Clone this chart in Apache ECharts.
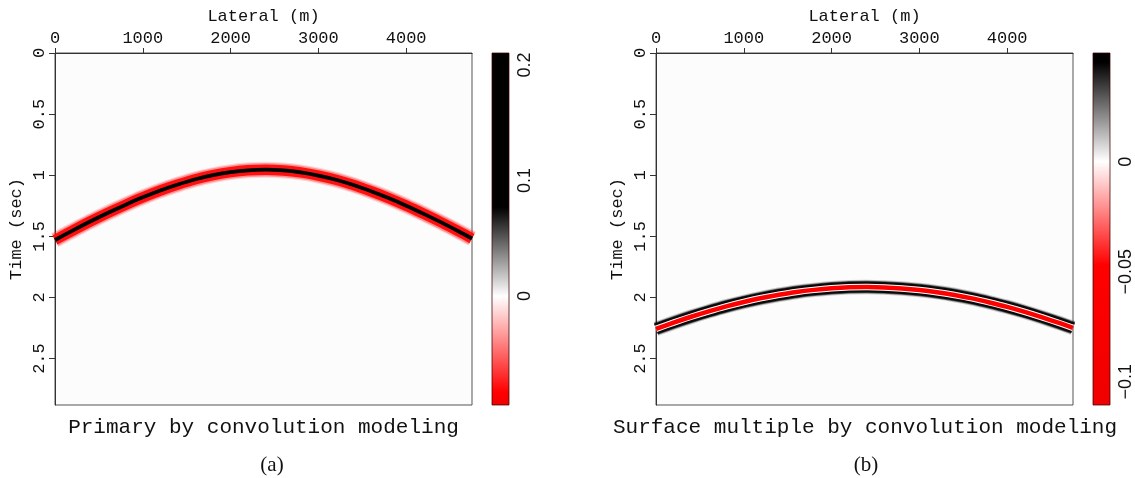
<!DOCTYPE html>
<html>
<head>
<meta charset="utf-8">
<script src="https://cdn.jsdelivr.net/npm/echarts@6/dist/echarts.min.js"></script>
<style>
  html, body { margin: 0; padding: 0; background: #ffffff; }
  #chart { width: 1135px; height: 478px; }
</style>
</head>
<body>
<div id="chart"></div>
<script>
// Lateral positions (m) where the event times are picked
const lateral = [0, 200, 400, 600, 800, 1000, 1200, 1400, 1600, 1800, 2000, 2200, 2400,
                 2600, 2800, 3000, 3200, 3400, 3600, 3800, 4000, 4200, 4400, 4600, 4750];
// Primary reflection: time of the wavelet peak (s)
const primaryTime = [1.530, 1.453, 1.379, 1.309, 1.243, 1.181, 1.125, 1.076, 1.033, 1.000, 0.975, 0.960, 0.955,
                     0.961, 0.977, 1.003, 1.037, 1.080, 1.131, 1.187, 1.249, 1.316, 1.386, 1.460, 1.518];
// Surface multiple: time of the wavelet trough (s)
const multipleTime = [2.257, 2.206, 2.158, 2.114, 2.073, 2.037, 2.005, 1.978, 1.955, 1.938, 1.925, 1.917, 1.915,
                      1.918, 1.926, 1.939, 1.957, 1.980, 2.008, 2.041, 2.077, 2.118, 2.163, 2.211, 2.249];

// Amplitude extremes spanned by each colour bar
const primaryAmpRange = [-0.0944, 0.2104];
const multipleAmpRange = [-0.1106, 0.0494];
// Amplitudes where the red-white-black map saturates
const primaryClip = [-0.083, 0.077];
const multipleClip = [-0.047, 0.045];

// Tick values
const lateralTicks = [0, 1000, 2000, 3000, 4000];
const timeTicks = [0, 0.5, 1, 1.5, 2, 2.5];
const primaryAmpTicks = [0, 0.1, 0.2];
const multipleAmpTicks = [-0.1, -0.05, 0];
const lateralMax = 4750;
const timeMax = 2.88;

const MONO = '"Liberation Mono", "DejaVu Sans Mono", monospace';
const SANS = '"Liberation Sans", Arial, sans-serif';
const SERIF = '"Liberation Serif", "DejaVu Serif", serif';
const INK = '#111';
const AXIS = '#333';

const chart = echarts.init(document.getElementById('chart'), null, { renderer: 'canvas' });

const panelGrid = (left) => ({
  left: left, top: 53, width: 417, height: 352,
  show: true, backgroundColor: '#fcfcfc', borderColor: '#555', borderWidth: 1
});
const barGrid = (left) => ({ left: left, top: 53, width: 17, height: 352, show: false });
const plain = (v) => String(v);

function lateralAxis(gridIndex) {
  return {
    gridIndex, type: 'value', position: 'top', min: 0, max: lateralMax,
    name: 'Lateral (m)', nameLocation: 'middle', nameGap: 28,
    nameTextStyle: { fontFamily: MONO, fontSize: 17, color: INK },
    axisLine: { show: true, onZero: false, lineStyle: { color: AXIS, width: 1 } },
    axisTick: { show: true, customValues: lateralTicks, length: 5, lineStyle: { color: AXIS } },
    axisLabel: { customValues: lateralTicks, fontFamily: MONO, fontSize: 17, color: INK, margin: 6, formatter: plain },
    splitLine: { show: false }
  };
}
function timeAxis(gridIndex) {
  return {
    gridIndex, type: 'value', inverse: true, min: 0, max: timeMax,
    name: 'Time (sec)', nameLocation: 'middle', nameGap: 30, nameRotate: 90,
    nameTextStyle: { fontFamily: MONO, fontSize: 17, color: INK },
    axisLine: { show: true, onZero: false, lineStyle: { color: AXIS, width: 1 } },
    axisTick: { show: true, customValues: timeTicks, length: 6, lineStyle: { color: AXIS } },
    axisLabel: { customValues: timeTicks, rotate: 90, fontFamily: MONO, fontSize: 17, color: INK, margin: 7, formatter: plain },
    splitLine: { show: false }
  };
}
const ampFormat = (v) => (v < 0 ? '\u2212' + String(Math.abs(v)) : String(v));
function ampAxis(gridIndex, range, ticks) {
  return {
    gridIndex, type: 'value', position: 'right', min: range[0], max: range[1],
    axisLine: { show: false },
    axisTick: { show: true, customValues: ticks, length: 4, lineStyle: { color: '#444' } },
    axisLabel: { customValues: ticks, rotate: 90, fontFamily: SANS, fontSize: 18, color: INK, margin: 7, formatter: ampFormat },
    splitLine: { show: false }
  };
}
const unitAxis = (gridIndex) => ({ gridIndex, type: 'value', min: 0, max: 1, show: false });

// Colour bar: red (negative) -> white (zero) -> black (positive)
function colorBar(index, range, clip) {
  const span = range[1] - range[0];
  const off = (v) => Math.min(1, Math.max(0, (v - range[0]) / span));
  const stops = [
    { offset: 0, color: '#f00000' },
    { offset: off(clip[0]), color: '#ff0000' },
    { offset: off(0), color: '#ffffff' },
    { offset: off(clip[1]), color: '#000000' },
    { offset: 1, color: '#000000' }
  ];
  return {
    type: 'custom', xAxisIndex: index, yAxisIndex: index, silent: true,
    data: [[0, range[0], range[1]]],
    renderItem(params, api) {
      const p0 = api.coord([0, api.value(1)]);
      const p1 = api.coord([1, api.value(2)]);
      return {
        type: 'rect',
        shape: { x: p0[0], y: p1[1], width: p1[0] - p0[0], height: p0[1] - p1[1] },
        style: {
          fill: new echarts.graphic.LinearGradient(0, 1, 0, 0, stops),
          stroke: 'rgba(60,0,0,0.75)', lineWidth: 1
        }
      };
    }
  };
}

// A seismic event drawn as stacked strokes following the picked times
function eventLayers(index, times, layers) {
  const data = lateral.map((x, i) => [x, times[i]]);
  return layers.map((l) => ({
    type: 'line', xAxisIndex: index, yAxisIndex: index, data,
    smooth: 0.3, showSymbol: false, symbol: 'none', silent: true,
    lineStyle: { color: l.color, width: l.width, cap: 'butt', join: 'round' }
  }));
}

const primaryLayers = [
  { color: 'rgba(255,0,0,0.14)', width: 16 },
  { color: 'rgba(255,40,40,0.40)', width: 13.5 },
  { color: '#ff1010', width: 10.5 },
  { color: '#000000', width: 3.8 }
];
const multipleLayers = [
  { color: 'rgba(0,0,0,0.20)', width: 14.5 },
  { color: 'rgba(0,0,0,0.55)', width: 12.5 },
  { color: '#0a0a0a', width: 11 },
  { color: '#ffffff', width: 6.5 },
  { color: '#ff0000', width: 4.5 }
];

const caption = (text, x, y, font) => ({
  type: 'text', x, y, silent: true,
  style: { text, font, fill: INK, textAlign: 'center', textVerticalAlign: 'middle' }
});

chart.setOption({
  animation: false,
  backgroundColor: '#ffffff',
  grid: [panelGrid(55), panelGrid(656), barGrid(492), barGrid(1093)],
  xAxis: [lateralAxis(0), lateralAxis(1), unitAxis(2), unitAxis(3)],
  yAxis: [timeAxis(0), timeAxis(1), ampAxis(2, primaryAmpRange, primaryAmpTicks), ampAxis(3, multipleAmpRange, multipleAmpTicks)],
  series: [
    ...eventLayers(0, primaryTime, primaryLayers),
    ...eventLayers(1, multipleTime, multipleLayers),
    colorBar(2, primaryAmpRange, primaryClip),
    colorBar(3, multipleAmpRange, multipleClip)
  ],
  graphic: [
    caption('Primary by convolution modeling', 263.5, 427, '21px ' + MONO),
    caption('Surface multiple by convolution modeling', 865, 427, '21px ' + MONO),
    caption('(a)', 272, 465, '21px ' + SERIF),
    caption('(b)', 866, 465, '21px ' + SERIF)
  ]
});
</script>
</body>
</html>
